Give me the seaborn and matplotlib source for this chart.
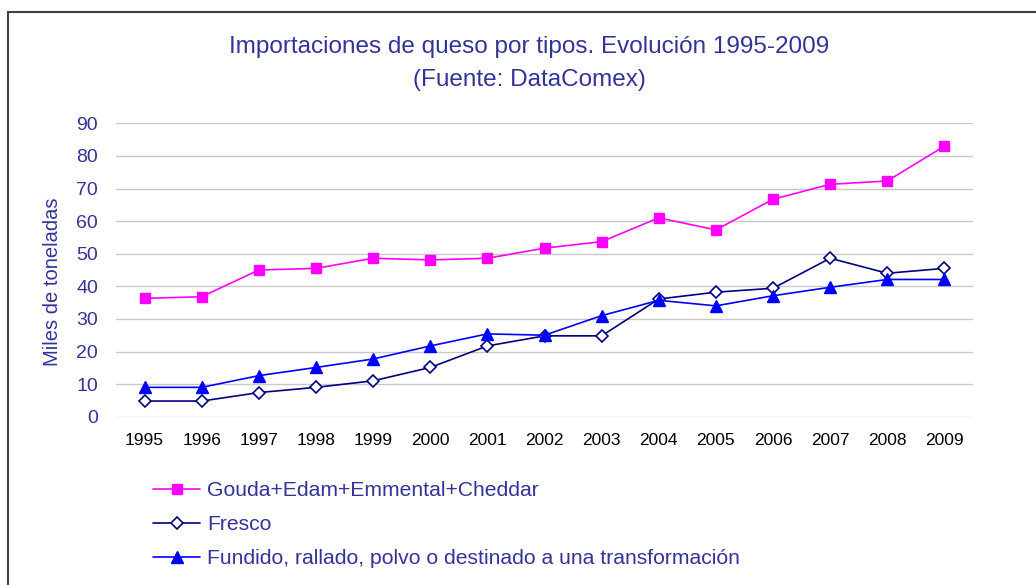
import matplotlib
matplotlib.use("Agg")
import matplotlib.pyplot as plt
from matplotlib.patches import Rectangle
import seaborn as sns
import pandas as pd

years = list(range(1995, 2010))
gouda = [36.3, 36.8, 45.0, 45.5, 48.6, 48.1, 48.6, 51.7, 53.7, 61.0, 57.3, 66.7, 71.3, 72.3, 83.0]
fresco = [4.8, 4.8, 7.4, 9.0, 11.0, 15.1, 21.7, 24.8, 24.8, 36.1, 38.2, 39.4, 48.6, 44.0, 45.5]
fundido = [9.0, 9.0, 12.6, 15.1, 17.7, 21.7, 25.4, 25.0, 31.0, 35.7, 34.0, 37.1, 39.7, 42.1, 42.1]
labels = ["Gouda+Edam+Emmental+Cheddar", "Fresco",
          "Fundido, rallado, polvo o destinado a una transformación"]
title1 = "Importaciones de queso por tipos. Evolución 1995-2009"
title2 = "(Fuente: DataComex)"
ylabel = "Miles de toneladas"
yticks = list(range(0, 100, 10))

sns.set_theme(style="white")
plt.rcParams['font.family'] = ['Liberation Sans', 'DejaVu Sans']

TXT = '#333399'
W, H = 1036, 585
fig = plt.figure(figsize=(W / 100, H / 100), dpi=100)
fig.patch.set_facecolor('white')

# outer frame
fig.patches.append(Rectangle((8 / W, -0.1), 1.2, 1 - 12 / H + 0.1, transform=fig.transFigure,
                             fill=False, edgecolor='#404040', linewidth=1.5))

left, right = 116 / W, 973 / W
bottom, top = 1 - 416.7 / H, 1 - 123.3 / H
ax = fig.add_axes([left, bottom, right - left, top - bottom])

df = pd.DataFrame({"year": years, "gouda": gouda, "fresco": fresco, "fundido": fundido})

sns.lineplot(data=df, x="year", y="gouda", ax=ax, color='#FF00FF', marker='s',
             markersize=7.5, markeredgecolor='#FF00FF', markerfacecolor='#FF00FF',
             markeredgewidth=1, linewidth=1.2, label=labels[0])
sns.lineplot(data=df, x="year", y="fresco", ax=ax, color='#000080', marker='D',
             markersize=6, markeredgecolor='#000080', markerfacecolor='white',
             markeredgewidth=1.2, linewidth=1.2, label=labels[1])
sns.lineplot(data=df, x="year", y="fundido", ax=ax, color='#0000FF', marker='^',
             markersize=8.5, markeredgecolor='#0000FF', markerfacecolor='#0000FF',
             markeredgewidth=1, linewidth=1.2, label=labels[2])

ax.set_xlim(1994.5, 2009.5)
ax.set_ylim(0, 90)
ax.set_yticks(yticks)
ax.set_xticks(years)
ax.set_xticklabels([str(y) for y in years])
ax.yaxis.grid(True, color='#C8C8C8', linewidth=1)
ax.xaxis.grid(False)
for s in ax.spines.values():
    s.set_visible(False)
ax.tick_params(axis='y', length=0, pad=13, labelsize=14, labelcolor=TXT)
ax.tick_params(axis='x', length=0, pad=12, labelsize=12.5, labelcolor='black')
ax.set_xlabel("")
ax.set_ylabel(ylabel, fontsize=14.5, color=TXT)
ax.yaxis.set_label_coords(-0.063, 0.46)

leg = ax.get_legend()
handles, lbls = ax.get_legend_handles_labels()
leg.remove()
fig.legend(handles, lbls, loc='upper left', bbox_to_anchor=(153 / W, 1 - 481 / H),
           frameon=False, fontsize=15.2, labelcolor=TXT, handlelength=2.23,
           handletextpad=0.33, labelspacing=0.72, borderpad=0, borderaxespad=0)

fig.text(529 / W, 1 - 47 / H, title1, ha='center', va='center', fontsize=17.5, color=TXT)
fig.text(529 / W, 1 - 80 / H, title2, ha='center', va='center', fontsize=17.5, color=TXT)

fig.savefig("out.png", dpi=100)
